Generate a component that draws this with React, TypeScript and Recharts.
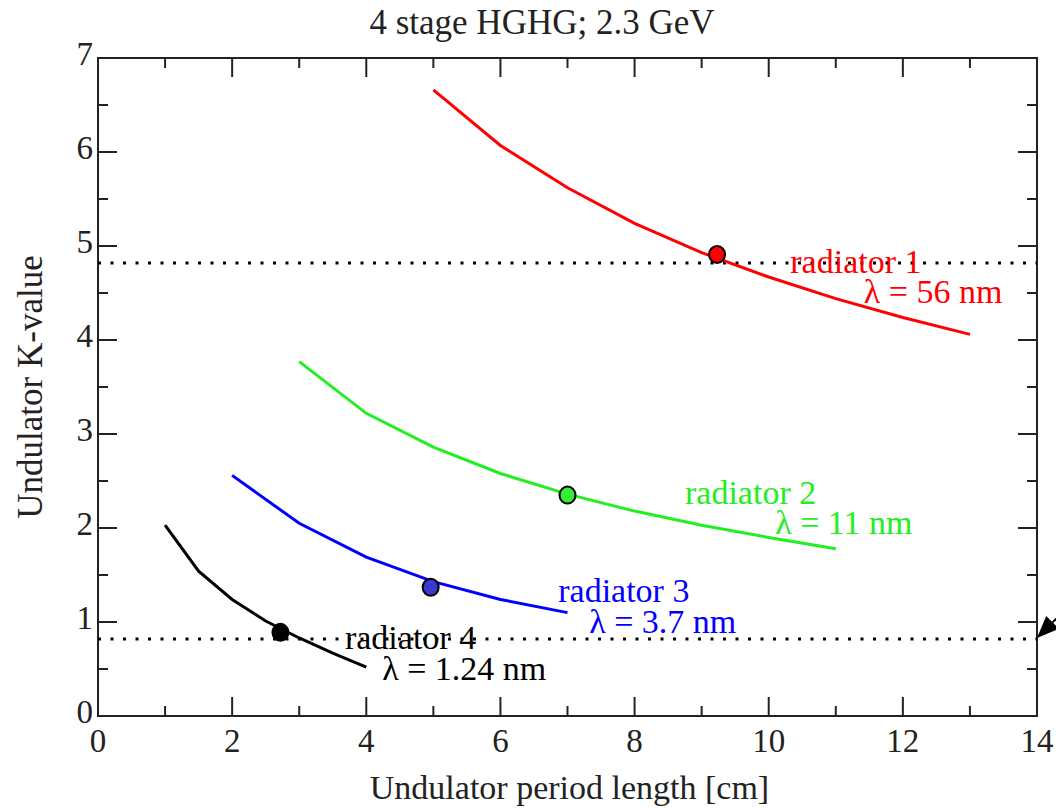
import { ComposedChart, Line, Scatter, XAxis, YAxis, ReferenceLine, ReferenceArea, ReferenceDot, Label } from 'recharts'

// undulator period [cm] vs K for each radiator
const periods1 = [5, 6, 7, 8, 9, 10, 11, 12, 13]
const k1 = [6.66, 6.07, 5.62, 5.24, 4.93, 4.67, 4.44, 4.24, 4.06]
const periods2 = [3, 4, 5, 6, 7, 8, 9, 10, 11]
const k2 = [3.77, 3.22, 2.86, 2.58, 2.36, 2.18, 2.03, 1.9, 1.78]
const periods3 = [2, 3, 4, 5, 6, 7]
const k3 = [2.56, 2.05, 1.69, 1.43, 1.24, 1.1]
const periods4 = [1, 1.5, 2, 2.5, 3, 3.5, 4]
const k4 = [2.03, 1.54, 1.24, 1.01, 0.83, 0.67, 0.52]

// chosen operating points (radiator 1..4)
const opPeriod = [9.23, 7.0, 4.96, 2.72]
const opK = [4.91, 2.35, 1.37, 0.89]

// dotted K limits
const kLimits = [4.82, 0.82]

const xTicks = [0, 1, 2, 3, 4, 5, 6, 7, 8, 9, 10, 11, 12, 13, 14]
const yTicks = [0, 0.5, 1, 1.5, 2, 2.5, 3, 3.5, 4, 4.5, 5, 5.5, 6, 6.5, 7]

const radiatorNames = ['radiator 1', 'radiator 2', 'radiator 3', 'radiator 4']
const wavelengths = ['λ = 56 nm', 'λ = 11 nm', 'λ = 3.7 nm', 'λ = 1.24 nm']

const toRows = (xs: number[], ks: number[]) => xs.map((x, i) => ({ x, k: ks[i] }))

const COLORS = ['#ff0000', '#22ee22', '#0000ff', '#000000']
const MARK_FILL = ['#ff0000', '#33ee33', '#3a3ad0', '#000000']
const FONT = '"Liberation Serif", "Times New Roman", serif'
const AXIS = '#222'

// label anchors (data coords): name / wavelength
const nameAt = [[11.3, 4.83], [9.73, 2.38], [7.84, 1.34], [4.66, 0.84]]
const lamAt = [[12.45, 4.52], [11.12, 2.06], [8.42, 1.01], [5.46, 0.51]]

const W = 1056
const H = 810
const M = { top: 58, right: 19, left: 0, bottom: 0 }
const PLOT_W = 939
const PLOT_H = 658

function XTick(p: any) {
  const v = p.payload.value
  const major = v % 2 === 0
  const len = major ? 19 : 10
  return (
    <g>
      <line x1={p.x} x2={p.x} y1={p.y} y2={p.y - len} stroke={AXIS} strokeWidth={2} />
      <line x1={p.x} x2={p.x} y1={p.y - PLOT_H} y2={p.y - PLOT_H + len} stroke={AXIS} strokeWidth={2} />
      {major && (
        <text x={p.x} y={p.y + 25} textAnchor="middle" dominantBaseline="central" fontSize={33} fontFamily={FONT} fill={AXIS}>
          {v}
        </text>
      )}
    </g>
  )
}

function YTick(p: any) {
  const v = p.payload.value
  const major = Number.isInteger(v)
  const len = major ? 19 : 10
  return (
    <g>
      <line x1={p.x} x2={p.x + len} y1={p.y} y2={p.y} stroke={AXIS} strokeWidth={2} />
      <line x1={p.x + PLOT_W} x2={p.x + PLOT_W - len} y1={p.y} y2={p.y} stroke={AXIS} strokeWidth={2} />
      {major && (
        <text x={p.x - 5} y={p.y - 4} textAnchor="end" dominantBaseline="central" fontSize={33} fontFamily={FONT} fill={AXIS}>
          {v}
        </text>
      )}
    </g>
  )
}

function Arrow(p: any) {
  const { x1, y1, x2, y2 } = p
  const ang = Math.atan2(y2 - y1, x2 - x1)
  const L = 22
  const w = 9
  const bx = x2 - L * Math.cos(ang)
  const by = y2 - L * Math.sin(ang)
  const pts = [
    [x2, y2],
    [bx + w * Math.sin(ang), by - w * Math.cos(ang)],
    [bx - w * Math.sin(ang), by + w * Math.cos(ang)],
  ]
  return (
    <g>
      <line x1={x1} y1={y1} x2={bx} y2={by} stroke="#000" strokeWidth={2} />
      <polygon points={pts.map((q) => q.join(',')).join(' ')} fill="#000" />
    </g>
  )
}

const series = [toRows(periods1, k1), toRows(periods2, k2), toRows(periods3, k3), toRows(periods4, k4)]

export default function App() {
  return (
    <div style={{ position: 'absolute', left: 0, top: 0, width: W, height: H, background: '#fff' }}>
      <div
        style={{
          position: 'absolute',
          top: 3,
          left: 342,
          width: 400,
          textAlign: 'center',
          fontFamily: FONT,
          fontSize: 35,
          color: AXIS,
          lineHeight: '40px',
        }}
      >
        4 stage HGHG; 2.3 GeV
      </div>
      <ComposedChart width={W} height={H} margin={M}>
        <XAxis
          dataKey="x"
          type="number"
          domain={[0, 14]}
          ticks={xTicks}
          interval={0}
          tickSize={0}
          tickMargin={0}
          tickLine={false}
          axisLine={false}
          height={94}
          tick={<XTick />}
        >
          <Label
            content={(props: any) => {
              const vb = props.viewBox
              return (
                <text x={vb.x + vb.width / 2 + 2} y={vb.y + 71} textAnchor="middle" dominantBaseline="central" fontSize={34} fontFamily={FONT} fill={AXIS}>
                  Undulator period length [cm]
                </text>
              )
            }}
          />
        </XAxis>
        <YAxis
          dataKey="k"
          type="number"
          domain={[0, 7]}
          ticks={yTicks}
          interval={0}
          tickSize={0}
          tickMargin={0}
          tickLine={false}
          axisLine={false}
          width={98}
          tick={<YTick />}
        >
          <Label
            content={(props: any) => {
              const vb = props.viewBox
              const cx = vb.x + 30
              const cy = vb.y + vb.height / 2
              return (
                <text x={cx} y={cy} transform={`rotate(-90 ${cx} ${cy})`} textAnchor="middle" dominantBaseline="central" fontSize={35} fontFamily={FONT} fill={AXIS}>
                  Undulator K-value
                </text>
              )
            }}
          />
        </YAxis>

        <ReferenceArea x1={0} x2={14} y1={0} y2={7} fill="none" stroke={AXIS} strokeWidth={2} fillOpacity={0} />

        {kLimits.map((k) => (
          <ReferenceLine key={k} y={k} stroke="#000" strokeWidth={3} strokeDasharray="3 9.5" />
        ))}

        <ReferenceLine
          segment={[
            { x: 14.42, y: 1.13 },
            { x: 14.0, y: kLimits[1] + 0.01 },
          ]}
          ifOverflow="visible"
          shape={<Arrow />}
        />

        {series.map((d, i) => (
          <Line
            key={i}
            data={d}
            dataKey="k"
            type="linear"
            stroke={COLORS[i]}
            strokeWidth={3}
            dot={false}
            activeDot={false}
            isAnimationActive={false}
          />
        ))}

        {opPeriod.map((x, i) => (
          <Scatter
            key={'op' + i}
            data={[{ x, k: opK[i] }]}
            dataKey="k"
            isAnimationActive={false}
            shape={(p: any) => <ellipse cx={p.cx} cy={p.cy} rx={8} ry={8.5} fill={MARK_FILL[i]} stroke="#000" strokeWidth={2} />}
          />
        ))}

        {radiatorNames.map((t, i) => (
          <ReferenceDot
            key={'n' + i}
            x={nameAt[i][0]}
            y={nameAt[i][1]}
            r={0}
            shape={(p: any) => (
              <text x={p.cx} y={p.cy} textAnchor="middle" dominantBaseline="central" fontSize={34} fontFamily={FONT} fill={COLORS[i]}>
                {t}
              </text>
            )}
          />
        ))}
        {wavelengths.map((t, i) => (
          <ReferenceDot
            key={'l' + i}
            x={lamAt[i][0]}
            y={lamAt[i][1]}
            r={0}
            shape={(p: any) => (
              <text x={p.cx} y={p.cy} textAnchor="middle" dominantBaseline="central" fontSize={34} fontFamily={FONT} fill={COLORS[i]}>
                {t}
              </text>
            )}
          />
        ))}
      </ComposedChart>
    </div>
  )
}
